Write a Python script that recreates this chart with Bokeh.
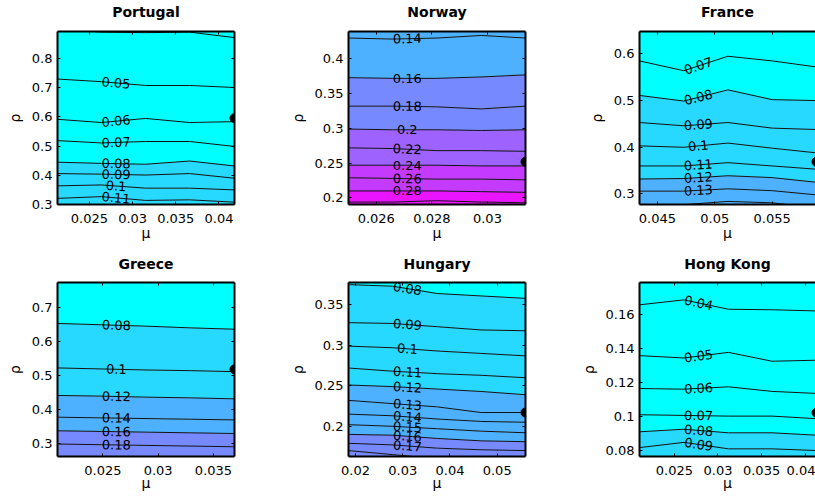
import math
from bokeh.plotting import figure
from bokeh.layouts import gridplot
from bokeh.models import Range1d, LinearAxis, FixedTicker, CustomJSTickFormatter
from bokeh.core.properties import value
from bokeh.embed import file_html
from bokeh.resources import INLINE

# ---------------- data ----------------
countries = ["Portugal", "Norway", "France", "Greece", "Hungary", "Hong Kong"]

portugal_mu = [0.0213, 0.0264, 0.0315, 0.0366, 0.0418]
portugal_rho_range = [0.300, 0.893]
portugal_levels = [0.04, 0.05, 0.06, 0.07, 0.08, 0.09, 0.10, 0.11]
portugal_lines = [
    [0.900, 0.891, 0.889, 0.891, 0.872],
    [0.730, 0.721, 0.708, 0.708, 0.701],
    [0.592, 0.581, 0.595, 0.581, 0.584],
    [0.519, 0.511, 0.516, 0.516, 0.499],
    [0.445, 0.441, 0.438, 0.449, 0.432],
    [0.406, 0.404, 0.401, 0.406, 0.390],
    [0.364, 0.367, 0.356, 0.356, 0.350],
    [0.321, 0.327, 0.314, 0.316, 0.308],
]
portugal_labeled = [0.05, 0.06, 0.07, 0.08, 0.09, 0.10, 0.11]
portugal_dot = [0.0418, 0.596]
portugal_xticks = [0.025, 0.03, 0.035, 0.04]
portugal_yticks = [0.3, 0.4, 0.5, 0.6, 0.7, 0.8]

norway_mu = [0.0250, 0.02659, 0.02818, 0.02978, 0.03137]
norway_rho_range = [0.1905, 0.4394]
norway_levels = [0.14, 0.16, 0.18, 0.20, 0.22, 0.24, 0.26, 0.28, 0.30]
norway_lines = [
    [0.430, 0.4285, 0.430, 0.4337, 0.430],
    [0.373, 0.372, 0.372, 0.374, 0.377],
    [0.332, 0.332, 0.331, 0.328, 0.332],
    [0.299, 0.298, 0.298, 0.297, 0.298],
    [0.272, 0.271, 0.268, 0.268, 0.267],
    [0.247, 0.247, 0.247, 0.246, 0.246],
    [0.229, 0.228, 0.227, 0.227, 0.226],
    [0.210, 0.210, 0.210, 0.209, 0.208],
    [0.194, 0.194, 0.196, 0.194, 0.193],
]
norway_labeled = [0.14, 0.16, 0.18, 0.20, 0.22, 0.24, 0.26, 0.28]
norway_dot = [0.03137, 0.252]
norway_xticks = [0.026, 0.028, 0.03]
norway_yticks = [0.2, 0.25, 0.3, 0.35, 0.4]

france_mu = [0.04344, 0.04730, 0.05115, 0.05501, 0.05887]
france_rho_range = [0.2774, 0.648]
france_levels = [0.07, 0.08, 0.09, 0.10, 0.11, 0.12, 0.13, 0.14]
france_lines = [
    [0.585, 0.564, 0.595, 0.585, 0.572],
    [0.511, 0.499, 0.523, 0.502, 0.500],
    [0.453, 0.446, 0.453, 0.441, 0.438],
    [0.403, 0.400, 0.409, 0.398, 0.388],
    [0.360, 0.360, 0.367, 0.360, 0.353],
    [0.332, 0.333, 0.339, 0.335, 0.325],
    [0.306, 0.306, 0.311, 0.307, 0.298],
    [0.272, 0.277, 0.284, 0.281, 0.270],
]
france_labeled = [0.07, 0.08, 0.09, 0.10, 0.11, 0.12, 0.13]
france_dot = [0.05887, 0.369]
france_xticks = [0.045, 0.05, 0.055]
france_yticks = [0.3, 0.4, 0.5, 0.6]

greece_mu = [0.0209, 0.0249, 0.0289, 0.0329, 0.0369]
greece_rho_range = [0.2603, 0.7725]
greece_levels = [0.08, 0.10, 0.12, 0.14, 0.16, 0.18]
greece_lines = [
    [0.652, 0.648, 0.644, 0.639, 0.635],
    [0.521, 0.518, 0.515, 0.513, 0.510],
    [0.440, 0.438, 0.435, 0.433, 0.430],
    [0.376, 0.374, 0.372, 0.370, 0.368],
    [0.336, 0.334, 0.332, 0.330, 0.328],
    [0.297, 0.295, 0.293, 0.291, 0.289],
]
greece_labeled = [0.08, 0.10, 0.12, 0.14, 0.16, 0.18]
greece_dot = [0.0369, 0.517]
greece_xticks = [0.025, 0.03, 0.035]
greece_yticks = [0.3, 0.4, 0.5, 0.6, 0.7]

hungary_mu = [0.0185, 0.0279, 0.0373, 0.0466, 0.0560]
hungary_rho_range = [0.1627, 0.3776]
hungary_levels = [0.08, 0.09, 0.10, 0.11, 0.12, 0.13, 0.14, 0.15, 0.16, 0.17, 0.18]
hungary_lines = [
    [0.375, 0.373, 0.364, 0.361, 0.358],
    [0.328, 0.327, 0.323, 0.319, 0.318],
    [0.299, 0.297, 0.293, 0.290, 0.287],
    [0.272, 0.268, 0.265, 0.263, 0.260],
    [0.251, 0.249, 0.246, 0.243, 0.239],
    [0.232, 0.228, 0.224, 0.217, 0.217],
    [0.215, 0.213, 0.209, 0.206, 0.205],
    [0.202, 0.200, 0.197, 0.194, 0.192],
    [0.190, 0.189, 0.185, 0.182, 0.181],
    [0.179, 0.177, 0.173, 0.171, 0.170],
    [0.170, 0.165, 0.160, 0.158, 0.156],
]
hungary_labeled = [0.08, 0.09, 0.10, 0.11, 0.12, 0.13, 0.14, 0.15, 0.16, 0.17]
hungary_dot = [0.0560, 0.217]
hungary_xticks = [0.02, 0.03, 0.04, 0.05]
hungary_yticks = [0.2, 0.25, 0.3, 0.35]

hongkong_mu = [0.0210, 0.0261, 0.0312, 0.0362, 0.0413]
hongkong_rho_range = [0.0767, 0.1788]
hongkong_levels = [0.04, 0.05, 0.06, 0.07, 0.08, 0.09]
hongkong_lines = [
    [0.1657, 0.1686, 0.1631, 0.1628, 0.1621],
    [0.1359, 0.1345, 0.1378, 0.1326, 0.1332],
    [0.1166, 0.1162, 0.1176, 0.1149, 0.1137],
    [0.1012, 0.1008, 0.1004, 0.1004, 0.0989],
    [0.0912, 0.0927, 0.0906, 0.0906, 0.0892],
    [0.0819, 0.0850, 0.0812, 0.0812, 0.0802],
]
hongkong_labeled = [0.04, 0.05, 0.06, 0.07, 0.08, 0.09]
hongkong_dot = [0.0413, 0.1024]
hongkong_xticks = [0.025, 0.03, 0.035, 0.04]
hongkong_yticks = [0.08, 0.1, 0.12, 0.14, 0.16]

# ---------------- style ----------------
FONT = "DejaVu Sans"
FRAME_W = 177


def cool(t):
    t = max(0.0, min(1.0, t))
    r = int(round(255 * t))
    return "#%02x%02x%02x" % (r, 255 - r, 255)


def band_color(lev):
    k = math.floor((lev - 0.04) / 0.04 + 1e-6)
    k = max(0, min(6, k))
    return cool(k * 0.04 / 0.26)


fmt = CustomJSTickFormatter(code="return String(parseFloat(tick.toFixed(6)));")


def add_axis(p, place, ticks, label=None, show_labels=True, label_gap=0):
    ax = LinearAxis(ticker=FixedTicker(ticks=ticks, minor_ticks=[]), formatter=fmt)
    ax.major_tick_in = 3
    ax.major_tick_out = 0
    ax.minor_tick_in = 0
    ax.minor_tick_out = 0
    ax.major_tick_line_color = "black"
    ax.major_tick_line_width = 1
    ax.axis_line_color = "black"
    ax.axis_line_width = 2
    if show_labels:
        ax.major_label_text_font = FONT
        ax.major_label_text_font_size = "13px"
        ax.major_label_text_color = "black"
        ax.major_label_standoff = 9 if place == "below" else 5
        if label:
            ax.axis_label = label
            ax.axis_label_text_font = FONT
            ax.axis_label_text_font_size = "14px"
            ax.axis_label_text_font_style = "normal"
            ax.axis_label_text_color = "black"
            ax.axis_label_standoff = label_gap
    else:
        ax.major_label_text_font_size = "0px"
        ax.major_label_standoff = 0
        ax.major_label_text_alpha = 0
        if label:
            # panel title drawn as the label of the top axis
            ax.axis_label = label
            ax.axis_label_text_font = FONT
            ax.axis_label_text_font_size = "14px"
            ax.axis_label_text_font_style = "bold"
            ax.axis_label_text_color = "black"
            ax.axis_label_standoff = label_gap
    p.add_layout(ax, place)
    return ax


def panel(name, mu, rho_range, levels, lines, labeled, dot, xticks, yticks,
          width, height, bl, br, bt, bb, frame_w, frame_h, title_gap, mu_gap, right_axis):
    x0 = mu[0]
    x1 = mu[0] + (mu[-1] - mu[0]) * frame_w / FRAME_W
    lo, hi = rho_range
    p = figure(width=width, height=height, x_range=Range1d(x0, x1), y_range=Range1d(lo, hi),
               output_backend="svg", toolbar_location=None,
               x_axis_location=None, y_axis_location=None,
               min_border_left=bl, min_border_right=br, min_border_top=bt, min_border_bottom=bb)
    p.outline_line_color = None
    p.background_fill_color = "white"
    p.border_fill_color = "white"

    # filled bands
    top = [hi + 1.0] * len(mu)
    bot = [lo - 1.0] * len(mu)
    step = levels[1] - levels[0]
    p.varea(x=mu, y1=lines[0], y2=top, fill_color=band_color(levels[0] - step), fill_alpha=1)
    for i in range(len(levels) - 1):
        p.varea(x=mu, y1=lines[i + 1], y2=lines[i], fill_color=band_color(levels[i]), fill_alpha=1)
    p.varea(x=mu, y1=bot, y2=lines[-1], fill_color=band_color(levels[-1]), fill_alpha=1)

    # contour lines
    p.multi_line(xs=[mu] * len(lines), ys=lines, line_color="#111111", line_width=1)

    # labels
    sx = frame_w / (x1 - x0)
    sy = frame_h / (hi - lo)
    lx, ly, la, lt = [], [], [], []
    for lev, ln in zip(levels, lines):
        if not any(abs(lev - q) < 1e-9 for q in labeled):
            continue
        f = 0.33
        xx = mu[1] + f * (mu[2] - mu[1])
        yy = ln[1] + f * (ln[2] - ln[1])
        ang = math.atan2((ln[2] - ln[1]) * sy, (mu[2] - mu[1]) * sx)
        lx.append(xx)
        ly.append(yy)
        la.append(ang)
        lt.append("%g" % lev)
    p.text(x=lx, y=ly, text=lt, angle=la, text_font=value(FONT), text_font_size="13px",
           text_align="center", text_baseline="middle", text_color="black")

    # current point
    p.scatter(x=[dot[0]], y=[dot[1]], size=9, color="black")

    add_axis(p, "left", yticks, label="ρ", label_gap=6)
    add_axis(p, "below", xticks, label="μ", label_gap=mu_gap)
    add_axis(p, "above", xticks, label=name, show_labels=False, label_gap=title_gap)
    if right_axis:
        add_axis(p, "right", yticks, show_labels=False)
    return p


cols = [
    dict(width=286, bl=57, br=52, frame_w=177, right_axis=True),
    dict(width=291, bl=62, br=52, frame_w=177, right_axis=True),
    dict(width=238, bl=62, br=0, frame_w=176, right_axis=False),
]
rows = [
    dict(height=252, bt=29, bb=48, frame_h=175, title_gap=12, mu_gap=-1),
    dict(height=244, bt=28, bb=40, frame_h=176, title_gap=11, mu_gap=-3),
]

data = [
    (portugal_mu, portugal_rho_range, portugal_levels, portugal_lines, portugal_labeled, portugal_dot, portugal_xticks, portugal_yticks),
    (norway_mu, norway_rho_range, norway_levels, norway_lines, norway_labeled, norway_dot, norway_xticks, norway_yticks),
    (france_mu, france_rho_range, france_levels, france_lines, france_labeled, france_dot, france_xticks, france_yticks),
    (greece_mu, greece_rho_range, greece_levels, greece_lines, greece_labeled, greece_dot, greece_xticks, greece_yticks),
    (hungary_mu, hungary_rho_range, hungary_levels, hungary_lines, hungary_labeled, hungary_dot, hungary_xticks, hungary_yticks),
    (hongkong_mu, hongkong_rho_range, hongkong_levels, hongkong_lines, hongkong_labeled, hongkong_dot, hongkong_xticks, hongkong_yticks),
]

figs = []
for idx, name in enumerate(countries):
    r, c = divmod(idx, 3)
    cc, rr = cols[c], rows[r]
    figs.append(panel(name, *data[idx], width=cc["width"], height=rr["height"],
                      bl=cc["bl"], br=cc["br"], bt=rr["bt"], bb=rr["bb"],
                      frame_w=cc["frame_w"], frame_h=rr["frame_h"],
                      title_gap=rr["title_gap"], mu_gap=rr["mu_gap"],
                      right_axis=cc["right_axis"]))

grid = gridplot([figs[0:3], figs[3:6]], toolbar_location=None)

open("out.html", "w").write(file_html(grid, INLINE))
